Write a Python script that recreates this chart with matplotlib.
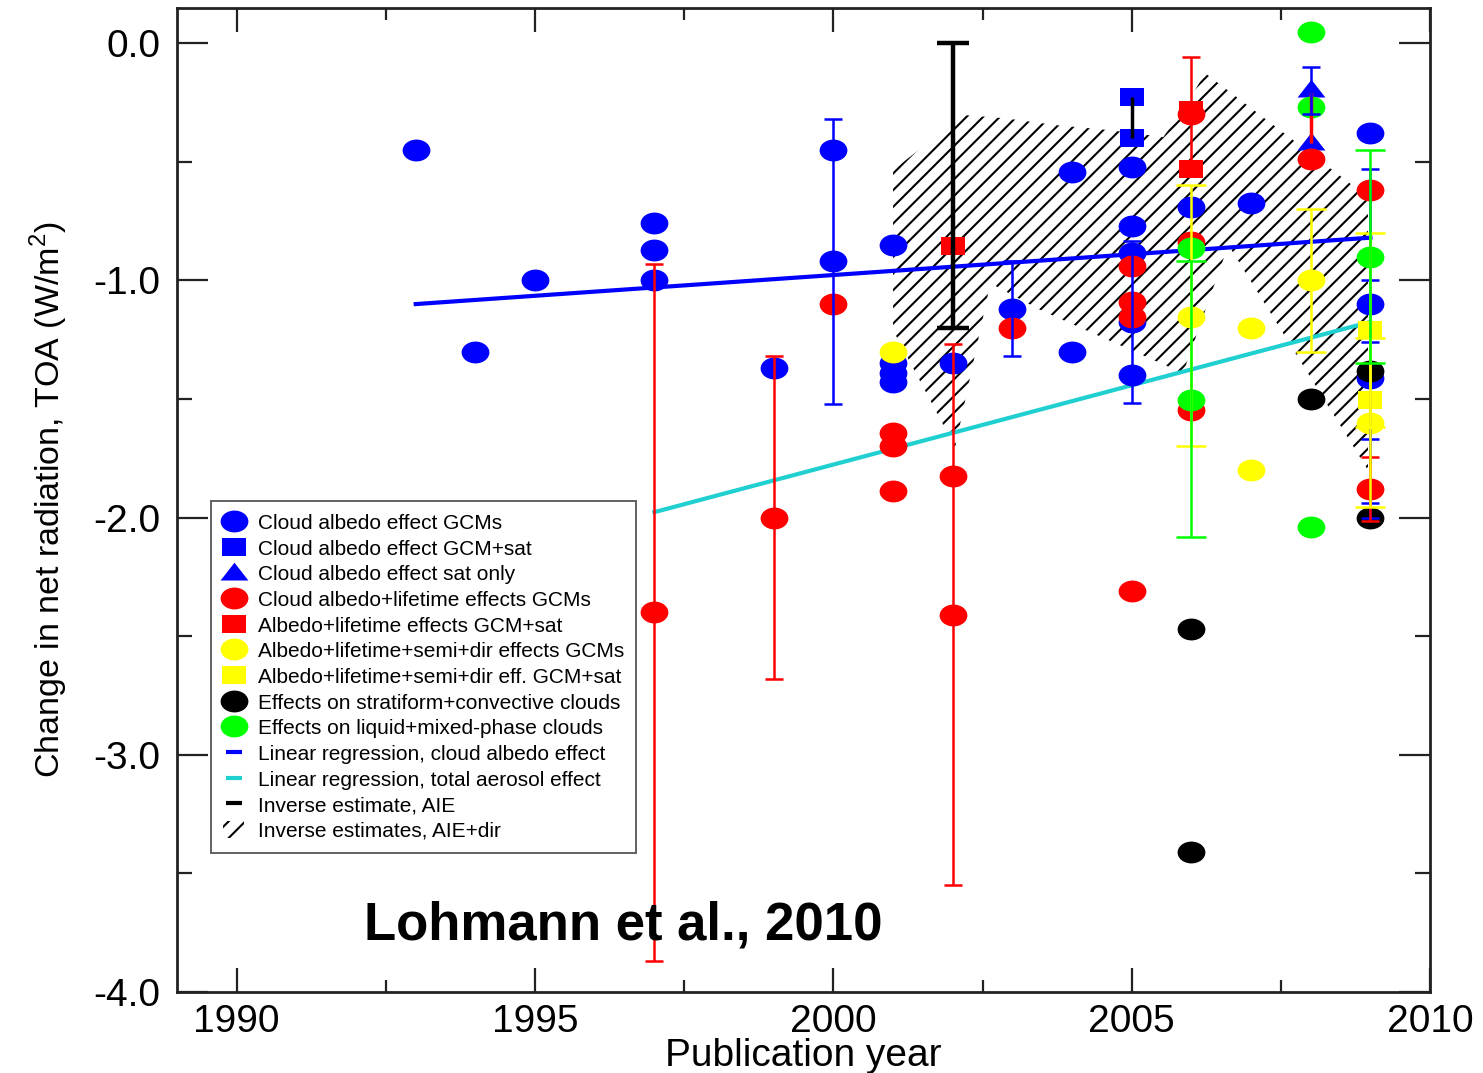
import numpy as np
import matplotlib
matplotlib.use('Agg')
import matplotlib.pyplot as plt
from matplotlib.path import Path
from matplotlib.transforms import Affine2D
from matplotlib.lines import Line2D
from matplotlib.patches import Patch, Polygon
from matplotlib.ticker import MultipleLocator

plt.rcParams['font.family'] = ['Liberation Sans', 'DejaVu Sans']
plt.rcParams['mathtext.fontset'] = 'custom'
plt.rcParams['mathtext.rm'] = 'Liberation Sans'
plt.rcParams['axes.unicode_minus'] = False
plt.rcParams['hatch.linewidth'] = 1.5

# cloud albedo effect, GCMs (blue circles)
ca_gcm_year = [1993, 1994, 1995, 1997, 1997, 1997, 1999, 2000, 2000, 2001, 2001, 2001, 2001,
               2002, 2003, 2004, 2004, 2005, 2005, 2005, 2005, 2005, 2006, 2007, 2009, 2009, 2009]
ca_gcm_val = [-0.45, -1.30, -1.00, -0.76, -0.87, -1.00, -1.37, -0.45, -0.92, -0.85, -1.35, -1.39, -1.43,
              -1.35, -1.12, -0.545, -1.30, -0.52, -0.77, -0.885, -1.175, -1.40, -0.69, -0.675, -0.38, -1.10, -1.41]
# cloud albedo effect, GCM+sat (blue squares) and sat only (blue triangles)
ca_sat_year = [2005, 2005]
ca_sat_val = [-0.225, -0.40]
ca_satonly_year = [2008, 2008]
ca_satonly_val = [-0.195, -0.415]

# cloud albedo + lifetime effects, GCMs (red circles) and GCM+sat (red squares)
al_gcm_year = [1997, 1999, 2000, 2001, 2001, 2001, 2002, 2002, 2003, 2005, 2005, 2005, 2005,
               2006, 2006, 2006, 2008, 2009, 2009]
al_gcm_val = [-2.40, -2.00, -1.10, -1.645, -1.70, -1.89, -1.825, -2.41, -1.20, -0.94, -1.09, -1.155, -2.31,
              -0.30, -0.84, -1.547, -0.49, -0.62, -1.88]
al_sat_year = [2002, 2006, 2006]
al_sat_val = [-0.855, -0.28, -0.53]

# albedo + lifetime + semi-direct + direct (yellow)
all_gcm_year = [2001, 2006, 2007, 2007, 2008, 2009]
all_gcm_val = [-1.30, -1.153, -1.20, -1.80, -1.00, -1.60]
all_sat_year = [2009, 2009]
all_sat_val = [-1.21, -1.505]

# stratiform + convective (black), liquid + mixed-phase (green)
strat_year = [2006, 2006, 2008, 2009, 2009]
strat_val = [-2.47, -3.41, -1.50, -1.38, -2.00]
mixed_year = [2006, 2006, 2008, 2008, 2008, 2009]
mixed_val = [-0.865, -1.505, 0.045, -0.27, -2.04, -0.90]

# error bars: centre and half range
blue_err_year = [2000, 2003, 2005, 2008, 2009, 2009, 2009]
blue_err_val = [-0.92, -1.12, -1.175, -0.20, -1.10, -1.47, -1.63]
blue_err_half = [0.60, 0.20, 0.34, 0.10, 0.57, 0.47, 0.37]
red_err_year = [1997, 1999, 2002, 2006, 2009]
red_err_val = [-2.40, -2.00, -2.41, -0.295, -1.88]
red_err_half = [1.47, 0.68, 1.14, 0.235, 0.135]
yellow_err_year = [2006, 2008, 2009, 2009]
yellow_err_val = [-1.15, -1.00, -1.60, -1.21]
yellow_err_half = [0.55, 0.30, 0.355, 0.41]
green_err_year = [2006, 2009]
green_err_val = [-1.50, -0.90]
green_err_half = [0.58, 0.45]

# ranges without caps
range_year = [2005, 2008]
range_lo = [-0.40, -0.42]
range_hi = [-0.228, -0.205]
range_color = ['black', 'red']

# inverse estimate of AIE
aie_year = [2002]
aie_val = [-0.60]
aie_half = [0.60]

# inverse estimates AIE+dir (hatched envelope)
env_year = [2001.0, 2002.18, 2002.85, 2003.75, 2004.64, 2005.53, 2006.03, 2006.23, 2008.96, 2008.96,
            2006.62, 2005.86, 2003.47, 2002.63, 2002.04, 2001.0]
env_val = [-0.535, -0.303, -0.316, -0.346, -0.367, -0.396, -0.211, -0.126, -0.649, -1.80,
           -0.851, -1.391, -1.125, -1.012, -1.703, -1.21]

# linear regressions
reg_ca_year = [1993, 2009]
reg_ca_val = [-1.10, -0.82]
reg_tot_year = [1997, 2009]
reg_tot_val = [-1.977, -1.175]

BLUE = '#0000ff'
RED = '#ff0000'
YELLOW = '#ffff00'
GREEN = '#00ff00'
CYAN = '#20d0d0'

# stretched marker shapes
ell = Path.unit_circle().transformed(Affine2D().scale(1.27, 1.0))
box = Path([(-0.667, -0.5), (0.667, -0.5), (0.667, 0.5), (-0.667, 0.5), (-0.667, -0.5)], closed=True)
tri = Path([(-0.78, -0.45), (0.78, -0.45), (0.0, 0.55), (-0.78, -0.45)], closed=True)
MS_ELL = 20
MS_BOX = 17.5
MS_TRI = 20

fig = plt.figure(figsize=(14.83, 10.73), dpi=100)
ax = fig.add_axes([0.1194, 0.0755, 0.8449, 0.917])

env = Polygon(np.column_stack([env_year, env_val]), closed=True, facecolor='none',
              edgecolor='black', linewidth=0, hatch='//', zorder=1)
ax.add_patch(env)

ax.plot(reg_ca_year, reg_ca_val, color=BLUE, lw=3, zorder=2)
ax.plot(reg_tot_year, reg_tot_val, color=CYAN, lw=3, zorder=2)


def pts(x, y, color, marker, ms, z=3):
    ax.plot(x, y, ls='none', marker=marker, ms=ms, color=color, mew=0, zorder=z)


pts(ca_gcm_year, ca_gcm_val, BLUE, ell, MS_ELL)
pts(ca_sat_year, ca_sat_val, BLUE, box, MS_BOX)
pts(ca_satonly_year, ca_satonly_val, BLUE, tri, MS_TRI)
pts(al_gcm_year, al_gcm_val, RED, ell, MS_ELL, 3.1)
pts(al_sat_year, al_sat_val, RED, box, MS_BOX, 3.1)
pts(all_gcm_year, all_gcm_val, YELLOW, ell, MS_ELL, 3.2)
pts(all_sat_year, all_sat_val, YELLOW, box, MS_BOX, 3.2)
pts(strat_year, strat_val, 'black', ell, MS_ELL, 3.3)
pts(mixed_year, mixed_val, GREEN, ell, MS_ELL, 3.4)

ax.vlines(range_year, range_lo, range_hi, colors=range_color, lw=2.5, zorder=3.5)

ax.errorbar(blue_err_year, blue_err_val, yerr=blue_err_half, fmt='none', ecolor=BLUE,
            elinewidth=1.8, capsize=6.5, capthick=1.8, zorder=4)
ax.errorbar(red_err_year, red_err_val, yerr=red_err_half, fmt='none', ecolor=RED,
            elinewidth=1.8, capsize=6.5, capthick=1.8, zorder=4.1)
ax.errorbar(yellow_err_year, yellow_err_val, yerr=yellow_err_half, fmt='none', ecolor=YELLOW,
            elinewidth=1.8, capsize=11, capthick=1.8, zorder=4.2)
ax.errorbar(green_err_year, green_err_val, yerr=green_err_half, fmt='none', ecolor=GREEN,
            elinewidth=1.8, capsize=11, capthick=1.8, zorder=4.3)
ax.errorbar(aie_year, aie_val, yerr=aie_half, fmt='none', ecolor='black',
            elinewidth=3.2, capsize=11.5, capthick=3.2, zorder=4.4)

ax.text(1992.13, -3.78, 'Lohmann et al., 2010', fontsize=38, fontweight='bold',
        color='black', va='baseline', ha='left', zorder=6)

ax.set_xlim(1989.0, 2010.0)
ax.set_ylim(-4.0, 0.148)
ax.xaxis.set_major_locator(MultipleLocator(5))
ax.xaxis.set_minor_locator(MultipleLocator(2.5))
ax.yaxis.set_major_locator(MultipleLocator(1))
ax.yaxis.set_minor_locator(MultipleLocator(0.5))
ax.yaxis.set_major_formatter(plt.FormatStrFormatter('%.1f'))
ax.tick_params(axis='both', which='both', direction='in', top=True, right=True,
               width=1.6, color='#222222', labelsize=28)
ax.tick_params(axis='x', which='major', length=17, pad=9)
ax.tick_params(axis='x', which='minor', length=8.5)
ax.tick_params(axis='y', which='major', length=22, pad=12)
ax.tick_params(axis='y', which='minor', length=11)
for s in ax.spines.values():
    s.set_linewidth(2)
    s.set_color('#222222')

ax.set_xlabel('Publication year', fontsize=28, labelpad=-2)
ax.set_ylabel(r'Change in net radiation, TOA (W/m$^2$)', fontsize=24.5, labelpad=17)

handles = [
    Line2D([], [], ls='none', marker=ell, ms=MS_ELL, color=BLUE, mew=0),
    Line2D([], [], ls='none', marker=box, ms=MS_BOX, color=BLUE, mew=0),
    Line2D([], [], ls='none', marker=tri, ms=MS_TRI, color=BLUE, mew=0),
    Line2D([], [], ls='none', marker=ell, ms=MS_ELL, color=RED, mew=0),
    Line2D([], [], ls='none', marker=box, ms=MS_BOX, color=RED, mew=0),
    Line2D([], [], ls='none', marker=ell, ms=MS_ELL, color=YELLOW, mew=0),
    Line2D([], [], ls='none', marker=box, ms=MS_BOX, color=YELLOW, mew=0),
    Line2D([], [], ls='none', marker=ell, ms=MS_ELL, color='black', mew=0),
    Line2D([], [], ls='none', marker=ell, ms=MS_ELL, color=GREEN, mew=0),
    Line2D([], [], ls='none', marker='_', ms=12, color=BLUE, mew=3),
    Line2D([], [], ls='none', marker='_', ms=12, color=CYAN, mew=3),
    Line2D([], [], ls='none', marker='_', ms=12, color='black', mew=3),
    Patch(facecolor='none', edgecolor='black', linewidth=0, hatch='//'),
]
labels = [
    'Cloud albedo effect GCMs',
    'Cloud albedo effect GCM+sat',
    'Cloud albedo effect sat only',
    'Cloud albedo+lifetime effects GCMs',
    'Albedo+lifetime effects GCM+sat',
    'Albedo+lifetime+semi+dir effects GCMs',
    'Albedo+lifetime+semi+dir eff. GCM+sat',
    'Effects on stratiform+convective clouds',
    'Effects on liquid+mixed-phase clouds',
    'Linear regression, cloud albedo effect',
    'Linear regression, total aerosol effect',
    'Inverse estimate, AIE',
    'Inverse estimates, AIE+dir',
]
leg = ax.legend(handles, labels, loc='upper left', bbox_to_anchor=(0.0271, 0.499),
                borderaxespad=0, fontsize=15, frameon=True, fancybox=False,
                edgecolor='#555555', framealpha=1, handlelength=1.0, handleheight=0.9,
                handletextpad=0.67, labelspacing=0.28, borderpad=0.58)
leg.get_frame().set_linewidth(1.3)
leg.set_zorder(5)

fig.savefig('out.png', dpi=100)
